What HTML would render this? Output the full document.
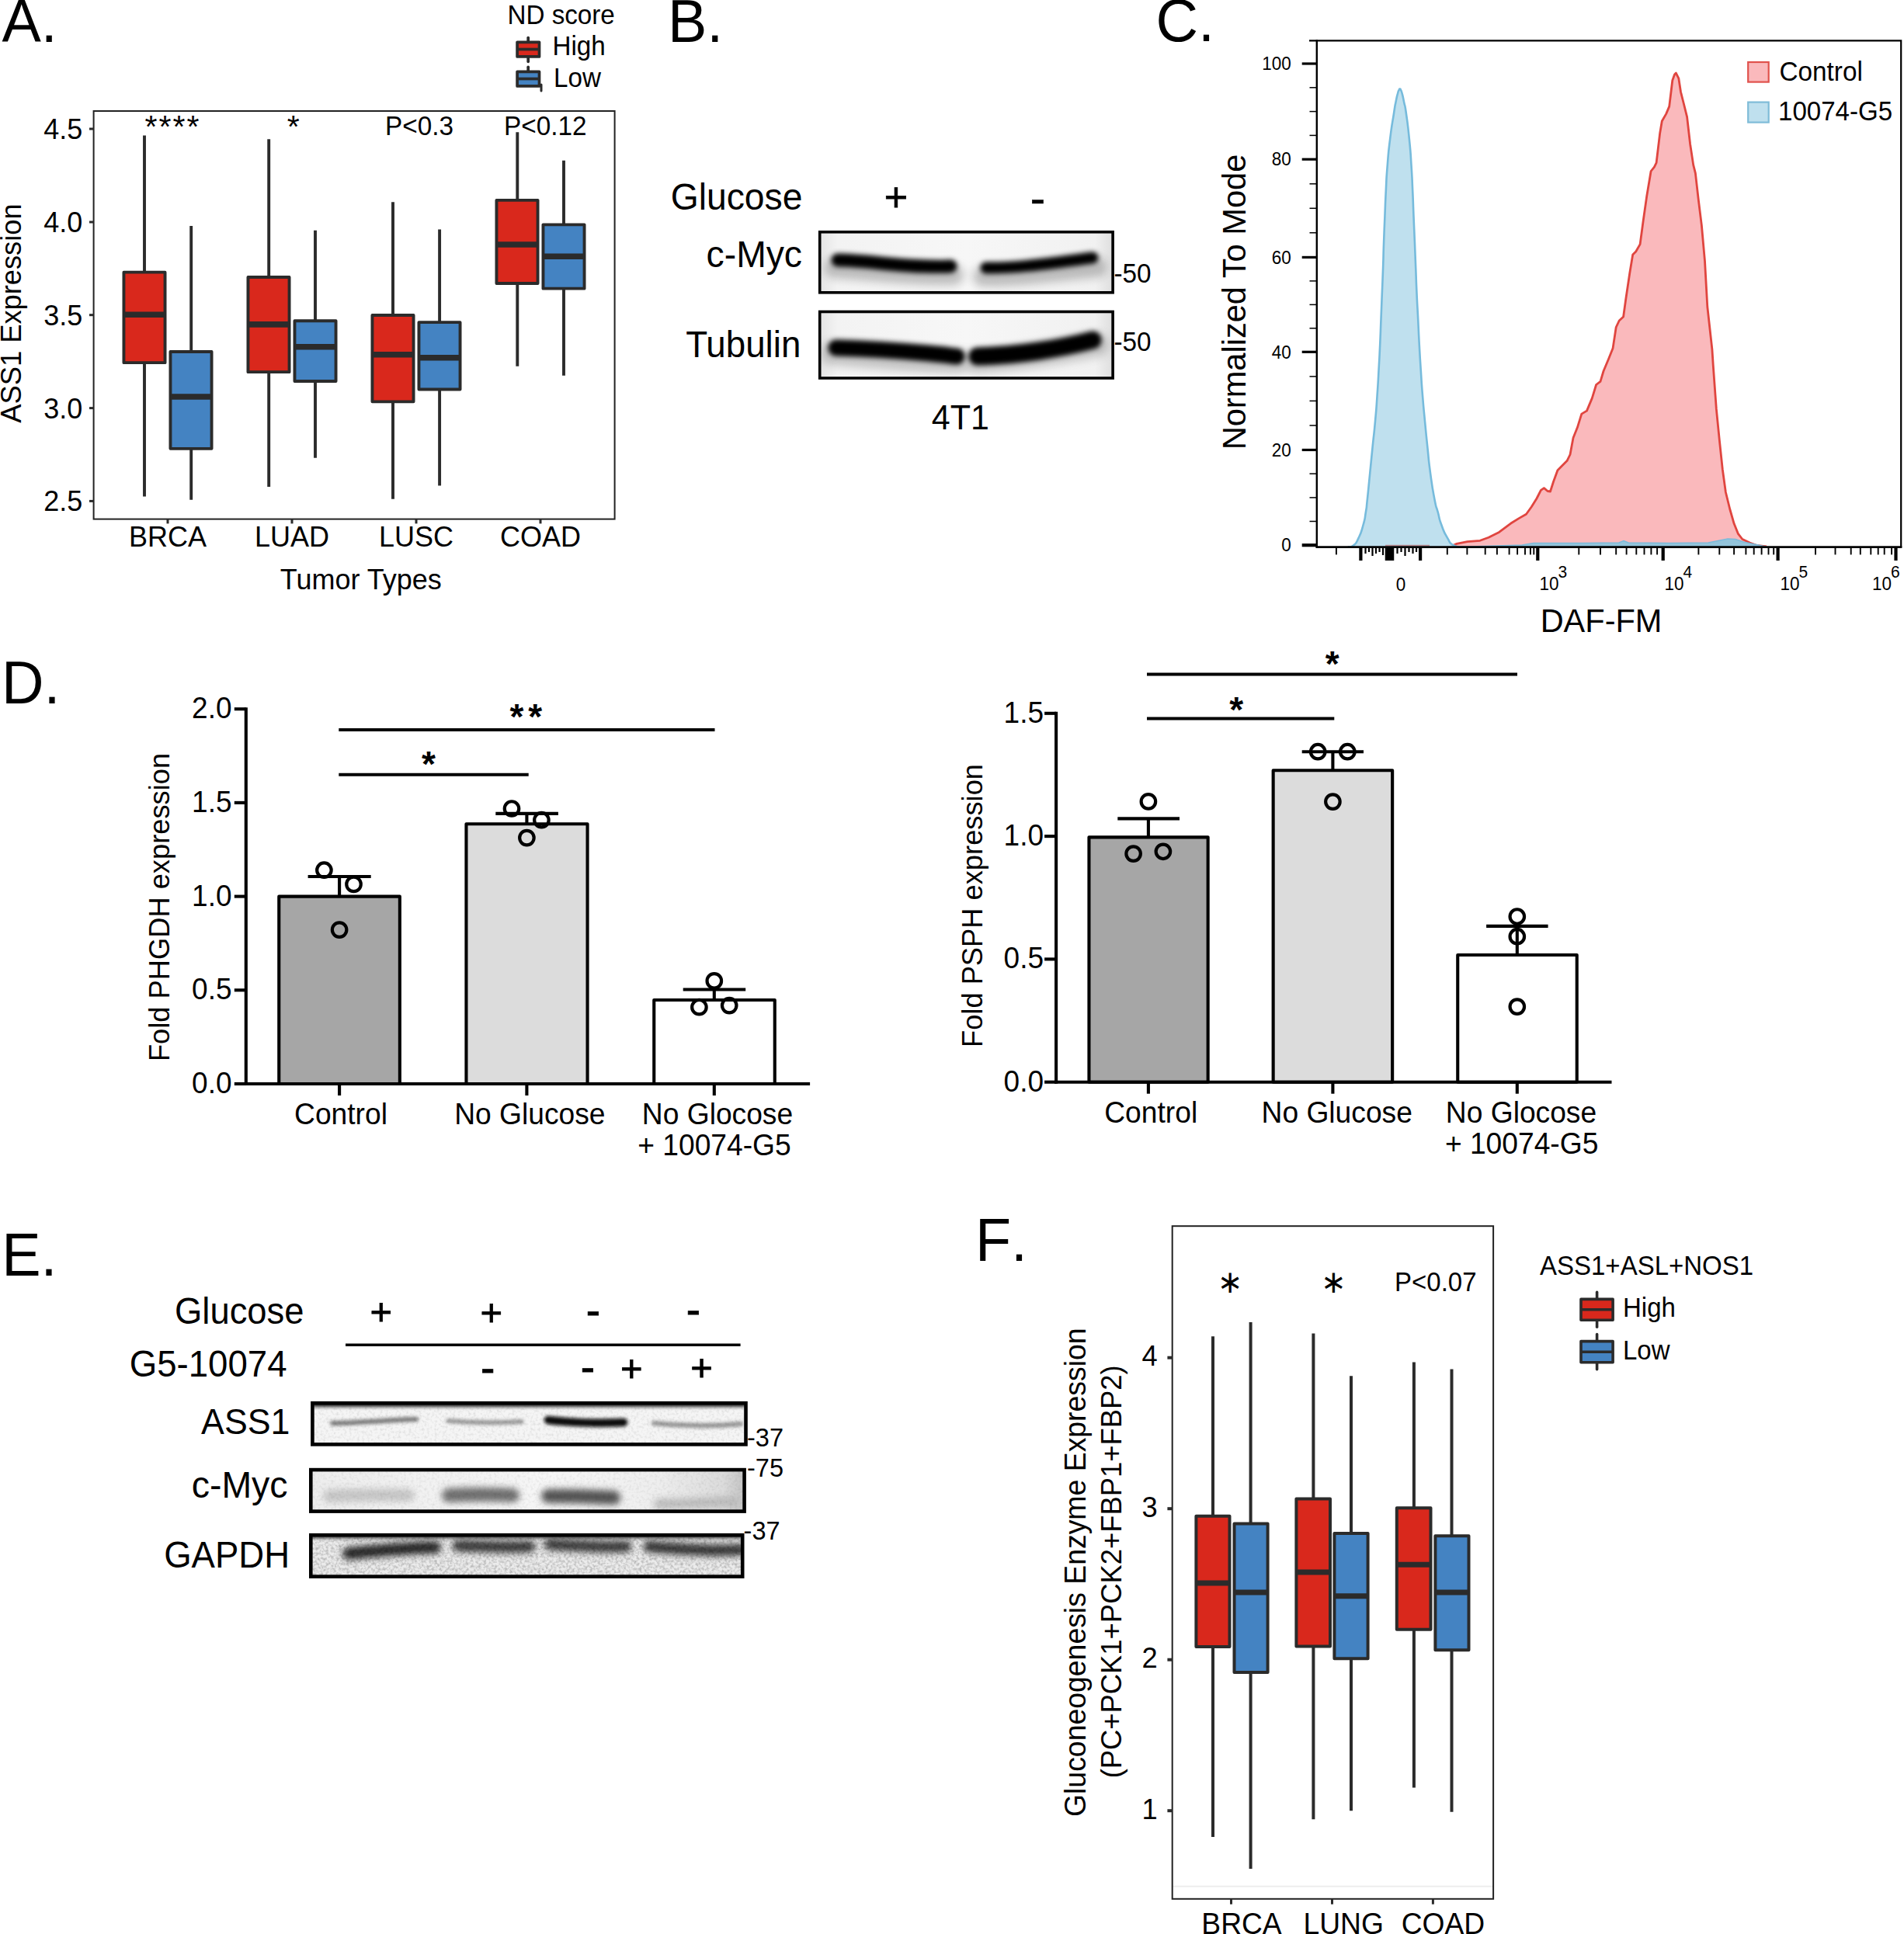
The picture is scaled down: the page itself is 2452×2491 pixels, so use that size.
<!DOCTYPE html>
<html lang="en"><head><meta charset="utf-8"><title>Figure</title>
<style>html,body{margin:0;padding:0;background:#fff}svg{display:block}text{font-family:"Liberation Sans", sans-serif;fill:#000}</style>
</head><body>
<svg width="2452" height="2491" viewBox="0 0 2452 2491">
<defs>
<filter id="b3" x="-20%" y="-200%" width="140%" height="500%"><feGaussianBlur stdDeviation="3"/></filter>
<filter id="b4" x="-20%" y="-200%" width="140%" height="500%"><feGaussianBlur stdDeviation="4.5"/></filter>
<filter id="b2" x="-20%" y="-200%" width="140%" height="500%"><feGaussianBlur stdDeviation="2.2"/></filter>
<filter id="b6" x="-20%" y="-300%" width="140%" height="700%"><feGaussianBlur stdDeviation="6"/></filter>
<filter id="noise" x="0" y="0" width="100%" height="100%"><feTurbulence type="fractalNoise" baseFrequency="0.3" numOctaves="2" seed="7" result="n"/><feColorMatrix type="matrix" values="0 0 0 0 0  0 0 0 0 0  0 0 0 0 0  1.6 0 0 0 -0.62"/></filter>
<filter id="noise2" x="0" y="0" width="100%" height="100%"><feTurbulence type="fractalNoise" baseFrequency="0.3" numOctaves="2" seed="3" result="n"/><feColorMatrix type="matrix" values="0 0 0 0 0  0 0 0 0 0  0 0 0 0 0  1.2 0 0 0 -0.52"/></filter>
<clipPath id="cB1"><rect x="1056" y="299" width="377" height="77.5"/></clipPath>
<clipPath id="cB2"><rect x="1056" y="401.5" width="377" height="85.5"/></clipPath>
<clipPath id="cE1"><rect x="402" y="1807" width="558.5" height="54"/></clipPath>
<clipPath id="cE2"><rect x="400" y="1893" width="558.5" height="54"/></clipPath>
<clipPath id="cE3"><rect x="400" y="1977" width="556.5" height="54"/></clipPath>
<clipPath id="cC"><rect x="1696" y="53" width="752" height="652"/></clipPath>
</defs>
<rect width="2452" height="2491" fill="#fff"/>
<text transform="translate(2.5 54.2) scale(1 1.04)" font-size="75.5">A.</text>
<text transform="translate(860 53.7) scale(1 1.04)" font-size="75.5">B.</text>
<text transform="translate(1488.5 53.3) scale(1 1.04)" font-size="75.5">C.</text>
<text transform="translate(1.9 906) scale(1 1.04)" font-size="75.5">D.</text>
<text transform="translate(2.2 1642.5) scale(1 1.04)" font-size="75.5">E.</text>
<text transform="translate(1255.9 1624.3) scale(1 1.04)" font-size="75.5" style="font-kerning:none">F.</text>
<g id="panelA">
<text transform="translate(653.5 30.8) scale(1 1.04)" font-size="33.2">ND score</text>
<text transform="translate(711.5 70.6) scale(1 1.04)" font-size="33.2">High</text>
<text transform="translate(713 112) scale(1 1.04)" font-size="33.2">Low</text>
<line x1="680.2" y1="48.6" x2="680.2" y2="79.3" stroke="#2b2b2b" stroke-width="3.7" stroke-linecap="round"/>
<rect x="666.1" y="54.3" width="28.4" height="18.6" fill="#d9281c" stroke="#2b2b2b" stroke-width="3.7" stroke-linejoin="round"/>
<line x1="666.5" y1="63.5" x2="694" y2="63.5" stroke="#2b2b2b" stroke-width="3.7"/>
<line x1="680.2" y1="86.3" x2="680.2" y2="92" stroke="#2b2b2b" stroke-width="3.7" stroke-linecap="round"/>
<rect x="666.1" y="92.3" width="28.4" height="18.6" fill="#4483c2" stroke="#2b2b2b" stroke-width="3.7" stroke-linejoin="round"/>
<line x1="666.5" y1="101.5" x2="694" y2="101.5" stroke="#2b2b2b" stroke-width="3.7"/>
<line x1="697" y1="109" x2="697" y2="117" stroke="#2b2b2b" stroke-width="3" stroke-linecap="round"/>
<rect x="120.6" y="143" width="671" height="525.6" fill="none" stroke="#222" stroke-width="2"/>
<line x1="115" y1="166" x2="120.6" y2="166" stroke="#2b2b2b" stroke-width="3"/>
<text transform="translate(106.3 178.9) scale(1 1.04)" font-size="36" text-anchor="end">4.5</text>
<line x1="115" y1="286" x2="120.6" y2="286" stroke="#2b2b2b" stroke-width="3"/>
<text transform="translate(106.3 298.9) scale(1 1.04)" font-size="36" text-anchor="end">4.0</text>
<line x1="115" y1="405.7" x2="120.6" y2="405.7" stroke="#2b2b2b" stroke-width="3"/>
<text transform="translate(106.3 418.59999999999997) scale(1 1.04)" font-size="36" text-anchor="end">3.5</text>
<line x1="115" y1="525.6" x2="120.6" y2="525.6" stroke="#2b2b2b" stroke-width="3"/>
<text transform="translate(106.3 538.5) scale(1 1.04)" font-size="36" text-anchor="end">3.0</text>
<line x1="115" y1="645.4" x2="120.6" y2="645.4" stroke="#2b2b2b" stroke-width="3"/>
<text transform="translate(106.3 658.3) scale(1 1.04)" font-size="36" text-anchor="end">2.5</text>
<line x1="216" y1="668.6" x2="216" y2="674.4" stroke="#2b2b2b" stroke-width="3"/>
<text transform="translate(216 704.3) scale(1 1.04)" font-size="36" text-anchor="middle">BRCA</text>
<line x1="376" y1="668.6" x2="376" y2="674.4" stroke="#2b2b2b" stroke-width="3"/>
<text transform="translate(376 704.3) scale(1 1.04)" font-size="36" text-anchor="middle">LUAD</text>
<line x1="536" y1="668.6" x2="536" y2="674.4" stroke="#2b2b2b" stroke-width="3"/>
<text transform="translate(536 704.3) scale(1 1.04)" font-size="36" text-anchor="middle">LUSC</text>
<line x1="696" y1="668.6" x2="696" y2="674.4" stroke="#2b2b2b" stroke-width="3"/>
<text transform="translate(696 704.3) scale(1 1.04)" font-size="36" text-anchor="middle">COAD</text>
<text transform="translate(464.8 759) scale(1 1.04)" font-size="36" text-anchor="middle">Tumor Types</text>
<text transform="translate(26.6 403.5) rotate(-90) scale(1 1.04)" font-size="36.3" text-anchor="middle">ASS1 Expression</text>
<text transform="translate(186.4 177.4)" font-size="41" letter-spacing="2.05">****</text>
<text transform="translate(377.8 177.4)" font-size="41" text-anchor="middle">*</text>
<text transform="translate(540 174.3) scale(1 1.04)" font-size="33.3" text-anchor="middle">P&lt;0.3</text>
<text transform="translate(702.2 174.3) scale(1 1.04)" font-size="33.3" text-anchor="middle">P&lt;0.12</text>
<line x1="186" y1="174.4" x2="186" y2="639.5" stroke="#2b2b2b" stroke-width="3.9"/>
<rect x="159.45" y="350.65" width="53.10" height="116.50" fill="#d9281c" stroke="#2b2b2b" stroke-width="3.9" stroke-linejoin="round"/>
<line x1="159.45" y1="405.3" x2="212.55" y2="405.3" stroke="#2b2b2b" stroke-width="7.6"/>
<line x1="246.2" y1="291" x2="246.2" y2="643.7" stroke="#2b2b2b" stroke-width="3.9"/>
<rect x="219.45" y="452.95" width="53.10" height="124.90" fill="#4483c2" stroke="#2b2b2b" stroke-width="3.9" stroke-linejoin="round"/>
<line x1="219.45" y1="511" x2="272.55" y2="511" stroke="#2b2b2b" stroke-width="7.6"/>
<line x1="346.2" y1="179.2" x2="346.2" y2="626.9" stroke="#2b2b2b" stroke-width="3.9"/>
<rect x="319.45" y="356.95" width="53.10" height="122.20" fill="#d9281c" stroke="#2b2b2b" stroke-width="3.9" stroke-linejoin="round"/>
<line x1="319.45" y1="417.9" x2="372.55" y2="417.9" stroke="#2b2b2b" stroke-width="7.6"/>
<line x1="406" y1="296.7" x2="406" y2="589.7" stroke="#2b2b2b" stroke-width="3.9"/>
<rect x="379.45" y="413.25" width="53.10" height="77.70" fill="#4483c2" stroke="#2b2b2b" stroke-width="3.9" stroke-linejoin="round"/>
<line x1="379.45" y1="446.7" x2="432.55" y2="446.7" stroke="#2b2b2b" stroke-width="7.6"/>
<line x1="506" y1="260.3" x2="506" y2="642.7" stroke="#2b2b2b" stroke-width="3.9"/>
<rect x="479.45" y="405.95" width="53.10" height="111.40" fill="#d9281c" stroke="#2b2b2b" stroke-width="3.9" stroke-linejoin="round"/>
<line x1="479.45" y1="456.7" x2="532.55" y2="456.7" stroke="#2b2b2b" stroke-width="7.6"/>
<line x1="566.1" y1="295.6" x2="566.1" y2="625.5" stroke="#2b2b2b" stroke-width="3.9"/>
<rect x="539.45" y="415.15" width="53.10" height="86.30" fill="#4483c2" stroke="#2b2b2b" stroke-width="3.9" stroke-linejoin="round"/>
<line x1="539.45" y1="460.7" x2="592.55" y2="460.7" stroke="#2b2b2b" stroke-width="7.6"/>
<line x1="666.3" y1="170.3" x2="666.3" y2="471.7" stroke="#2b2b2b" stroke-width="3.9"/>
<rect x="639.45" y="257.85" width="53.10" height="107.20" fill="#d9281c" stroke="#2b2b2b" stroke-width="3.9" stroke-linejoin="round"/>
<line x1="639.45" y1="315" x2="692.55" y2="315" stroke="#2b2b2b" stroke-width="7.6"/>
<line x1="726" y1="206.7" x2="726" y2="483.8" stroke="#2b2b2b" stroke-width="3.9"/>
<rect x="699.45" y="289.35" width="53.10" height="82.30" fill="#4483c2" stroke="#2b2b2b" stroke-width="3.9" stroke-linejoin="round"/>
<line x1="699.45" y1="330.2" x2="752.55" y2="330.2" stroke="#2b2b2b" stroke-width="7.6"/>
</g>
<g id="panelB">
<text transform="translate(1033.5 270.4) scale(1 1.04)" font-size="46.3" text-anchor="end">Glucose</text>
<text transform="translate(1033 344.2) scale(1 1.04)" font-size="46.3" text-anchor="end">c-Myc</text>
<text transform="translate(1031.3 460.3) scale(1 1.04)" font-size="45.7" text-anchor="end">Tubulin</text>
<text transform="translate(1153.9 271.7)" font-size="52" text-anchor="middle" stroke="#000" stroke-width="0.8">+</text>
<text transform="translate(1336.5 275)" font-size="58" text-anchor="middle" stroke="#000" stroke-width="0.6">-</text>
<text transform="translate(1434.5 364) scale(1 1.04)" font-size="33.3">-50</text>
<text transform="translate(1434.5 452.3) scale(1 1.04)" font-size="33.3">-50</text>
<text transform="translate(1236.8 553.4) scale(1 1.04)" font-size="43" text-anchor="middle">4T1</text>
<linearGradient id="gB" x1="0" y1="0" x2="1" y2="0"><stop offset="0" stop-color="#e4e4e4"/><stop offset="0.06" stop-color="#f3f3f3"/><stop offset="0.5" stop-color="#f7f7f7"/><stop offset="0.94" stop-color="#f1f1f1"/><stop offset="1" stop-color="#dedede"/></linearGradient>
<rect x="1055.7" y="298.8" width="377.4" height="78" fill="url(#gB)"/>
<g clip-path="url(#cB1)">
<g filter="url(#b6)" opacity="0.35"><path d="M1075,345 C1120,348 1185,356 1228,354" stroke="#555" stroke-width="26" fill="none" stroke-linecap="round"/><path d="M1266,356 C1310,357 1370,348 1412,344" stroke="#555" stroke-width="26" fill="none" stroke-linecap="round"/></g>
<g filter="url(#b3)"><path d="M1079,335 C1110,335 1150,342 1190,343 S1215,343 1224,343" stroke="#000" stroke-width="17" fill="none" stroke-linecap="round"/><path d="M1270,345 C1310,346 1360,338 1407,332" stroke="#000" stroke-width="15" fill="none" stroke-linecap="round"/></g>
</g>
<rect x="1055.7" y="298.8" width="377.4" height="78" fill="none" stroke="#000" stroke-width="3.6"/>
<rect x="1055.7" y="401.5" width="377.4" height="85.5" fill="url(#gB)"/>
<g clip-path="url(#cB2)">
<g filter="url(#b6)" opacity="0.3"><path d="M1072,455 C1120,458 1185,466 1236,466" stroke="#555" stroke-width="30" fill="none" stroke-linecap="round"/><path d="M1256,466 C1310,464 1370,452 1412,444" stroke="#555" stroke-width="30" fill="none" stroke-linecap="round"/></g>
<g filter="url(#b3)"><path d="M1077,448 C1110,449 1160,452 1195,455 S1225,459 1232,459" stroke="#000" stroke-width="21" fill="none" stroke-linecap="round"/><path d="M1259,459 C1310,458 1365,449 1407,438" stroke="#000" stroke-width="23" fill="none" stroke-linecap="round"/></g>
</g>
<rect x="1055.7" y="401.5" width="377.4" height="85.5" fill="none" stroke="#000" stroke-width="3.6"/>
</g>
<g id="panelC">
<path d="M1868,704 L1876,700.4 L1889.7,697.7 L1906,696.3 L1917,692.2 L1930.6,685.4 L1940,678.3 L1945.4,674.3 L1956.1,667.6 L1965.5,662.2 L1972.3,652.8 L1979,642 L1984.4,631.3 L1988.4,628.6 L1993,632.5 L1996.5,633 L2000.5,620.5 L2005.9,605.7 L2011.3,600.3 L2018,593.6 L2022,585.5 L2026,564 L2031.4,550.6 L2036.8,533.1 L2043.5,529.1 L2050.3,512.9 L2055.6,495.5 L2061,491.4 L2065,478 L2071.8,461.8 L2077.1,448.4 L2081.2,421.5 L2085.2,413 L2090.6,408 L2093.8,385 L2098.7,352.3 L2102.7,328.1 L2106.7,324 L2112.1,314.6 L2116.1,285 L2120.7,252.8 L2126.1,220.5 L2130.4,215.1 L2133.1,209.7 L2137.6,172.1 L2140.3,156 L2145.7,146.6 L2149.7,137.1 L2153.8,103.5 L2156.5,96 L2158.4,94.1 L2161.8,100.8 L2164.5,118.3 L2168.6,134.5 L2172.6,150.6 L2176.6,185.5 L2180.7,212.4 L2183.4,223.2 L2187.4,258.2 L2191.4,290.4 L2195.5,336.1 L2198.8,395 L2204.9,449.9 L2206.2,469.9 L2210.3,526.4 L2214.3,566.7 L2218.3,604.4 L2222.4,634 L2227.7,655.5 L2233.1,674.3 L2238.5,687.7 L2243.9,694.5 L2253.3,699 L2262.7,702.5 L2275,704 Z" fill="#fab9bc" stroke="none"/>
<path d="M1868,704 L1876,700.4 L1889.7,697.7 L1906,696.3 L1917,692.2 L1930.6,685.4 L1940,678.3 L1945.4,674.3 L1956.1,667.6 L1965.5,662.2 L1972.3,652.8 L1979,642 L1984.4,631.3 L1988.4,628.6 L1993,632.5 L1996.5,633 L2000.5,620.5 L2005.9,605.7 L2011.3,600.3 L2018,593.6 L2022,585.5 L2026,564 L2031.4,550.6 L2036.8,533.1 L2043.5,529.1 L2050.3,512.9 L2055.6,495.5 L2061,491.4 L2065,478 L2071.8,461.8 L2077.1,448.4 L2081.2,421.5 L2085.2,413 L2090.6,408 L2093.8,385 L2098.7,352.3 L2102.7,328.1 L2106.7,324 L2112.1,314.6 L2116.1,285 L2120.7,252.8 L2126.1,220.5 L2130.4,215.1 L2133.1,209.7 L2137.6,172.1 L2140.3,156 L2145.7,146.6 L2149.7,137.1 L2153.8,103.5 L2156.5,96 L2158.4,94.1 L2161.8,100.8 L2164.5,118.3 L2168.6,134.5 L2172.6,150.6 L2176.6,185.5 L2180.7,212.4 L2183.4,223.2 L2187.4,258.2 L2191.4,290.4 L2195.5,336.1 L2198.8,395 L2204.9,449.9 L2206.2,469.9 L2210.3,526.4 L2214.3,566.7 L2218.3,604.4 L2222.4,634 L2227.7,655.5 L2233.1,674.3 L2238.5,687.7 L2243.9,694.5 L2253.3,699 L2262.7,702.5 L2275,704" fill="none" stroke="#e0453f" stroke-width="2.8" stroke-linejoin="round"/>
<path d="M1736.0,704.3 C1738.3,703.7 1738.4,706.4 1743.0,702.5 C1747.6,698.6 1745.5,701.4 1749.7,692.6 C1753.9,683.8 1752.5,687.0 1755.6,676.0 C1758.7,665.0 1757.1,670.5 1758.9,659.5 C1760.7,648.5 1759.1,659.5 1760.9,642.9 C1762.7,626.3 1762.0,631.9 1764.2,609.8 C1766.4,587.7 1765.3,598.8 1767.5,576.7 C1769.7,554.6 1768.9,565.7 1770.9,543.6 C1772.9,521.5 1772.0,532.6 1773.5,510.5 C1775.0,488.4 1774.3,499.5 1775.5,477.4 C1776.7,455.3 1776.2,466.3 1777.2,444.2 C1778.2,422.1 1777.6,433.2 1778.5,411.1 C1779.4,389.0 1778.9,400.1 1779.8,378.0 C1780.7,355.9 1780.3,367.0 1781.1,344.9 C1781.9,322.8 1781.3,333.9 1782.1,311.8 C1782.9,289.7 1782.5,300.8 1783.4,278.7 C1784.3,256.6 1783.7,267.7 1784.8,245.6 C1785.9,223.5 1785.0,234.6 1786.8,212.5 C1788.6,190.4 1787.4,201.4 1790.1,179.3 C1792.8,157.2 1792.5,162.3 1795.0,146.2 C1797.5,130.1 1795.9,139.6 1797.6,131.0 C1799.3,122.4 1798.7,125.5 1800.0,120.5 C1801.3,115.5 1800.7,118.0 1801.6,116.0 C1802.5,114.0 1802.0,114.6 1802.8,114.6 C1803.6,114.6 1803.0,113.9 1804.0,116.0 C1805.0,118.1 1804.4,115.7 1805.8,121.0 C1807.2,126.3 1806.5,123.6 1808.2,132.0 C1809.9,140.4 1808.7,130.4 1810.9,146.2 C1813.1,162.0 1812.7,157.2 1814.9,179.3 C1817.1,201.4 1816.1,190.4 1817.5,212.5 C1818.9,234.6 1818.2,223.5 1819.2,245.6 C1820.2,267.7 1819.6,256.6 1820.5,278.7 C1821.4,300.8 1821.0,289.7 1821.9,311.8 C1822.8,333.9 1822.3,322.8 1823.2,344.9 C1824.1,367.0 1823.5,355.9 1824.5,378.0 C1825.5,400.1 1825.1,389.0 1826.2,411.1 C1827.3,433.2 1826.6,422.1 1827.8,444.2 C1829.0,466.3 1828.4,455.3 1829.8,477.4 C1831.2,499.5 1830.3,488.4 1832.1,510.5 C1833.9,532.6 1833.0,521.5 1835.1,543.6 C1837.2,565.7 1836.1,554.6 1838.4,576.7 C1840.7,598.8 1839.1,587.7 1842.1,609.8 C1845.1,631.9 1844.2,626.3 1847.4,642.9 C1850.6,659.5 1848.7,648.5 1851.7,659.5 C1854.7,670.5 1852.2,665.0 1856.3,676.0 C1860.4,687.0 1858.6,683.8 1863.9,692.6 C1869.2,701.4 1865.2,698.6 1872.2,702.5 C1879.2,706.4 1880.7,703.7 1885.0,704.3 Z" fill="#bfe0ee" stroke="none"/>
<path d="M1736.0,704.3 C1738.3,703.7 1738.4,706.4 1743.0,702.5 C1747.6,698.6 1745.5,701.4 1749.7,692.6 C1753.9,683.8 1752.5,687.0 1755.6,676.0 C1758.7,665.0 1757.1,670.5 1758.9,659.5 C1760.7,648.5 1759.1,659.5 1760.9,642.9 C1762.7,626.3 1762.0,631.9 1764.2,609.8 C1766.4,587.7 1765.3,598.8 1767.5,576.7 C1769.7,554.6 1768.9,565.7 1770.9,543.6 C1772.9,521.5 1772.0,532.6 1773.5,510.5 C1775.0,488.4 1774.3,499.5 1775.5,477.4 C1776.7,455.3 1776.2,466.3 1777.2,444.2 C1778.2,422.1 1777.6,433.2 1778.5,411.1 C1779.4,389.0 1778.9,400.1 1779.8,378.0 C1780.7,355.9 1780.3,367.0 1781.1,344.9 C1781.9,322.8 1781.3,333.9 1782.1,311.8 C1782.9,289.7 1782.5,300.8 1783.4,278.7 C1784.3,256.6 1783.7,267.7 1784.8,245.6 C1785.9,223.5 1785.0,234.6 1786.8,212.5 C1788.6,190.4 1787.4,201.4 1790.1,179.3 C1792.8,157.2 1792.5,162.3 1795.0,146.2 C1797.5,130.1 1795.9,139.6 1797.6,131.0 C1799.3,122.4 1798.7,125.5 1800.0,120.5 C1801.3,115.5 1800.7,118.0 1801.6,116.0 C1802.5,114.0 1802.0,114.6 1802.8,114.6 C1803.6,114.6 1803.0,113.9 1804.0,116.0 C1805.0,118.1 1804.4,115.7 1805.8,121.0 C1807.2,126.3 1806.5,123.6 1808.2,132.0 C1809.9,140.4 1808.7,130.4 1810.9,146.2 C1813.1,162.0 1812.7,157.2 1814.9,179.3 C1817.1,201.4 1816.1,190.4 1817.5,212.5 C1818.9,234.6 1818.2,223.5 1819.2,245.6 C1820.2,267.7 1819.6,256.6 1820.5,278.7 C1821.4,300.8 1821.0,289.7 1821.9,311.8 C1822.8,333.9 1822.3,322.8 1823.2,344.9 C1824.1,367.0 1823.5,355.9 1824.5,378.0 C1825.5,400.1 1825.1,389.0 1826.2,411.1 C1827.3,433.2 1826.6,422.1 1827.8,444.2 C1829.0,466.3 1828.4,455.3 1829.8,477.4 C1831.2,499.5 1830.3,488.4 1832.1,510.5 C1833.9,532.6 1833.0,521.5 1835.1,543.6 C1837.2,565.7 1836.1,554.6 1838.4,576.7 C1840.7,598.8 1839.1,587.7 1842.1,609.8 C1845.1,631.9 1844.2,626.3 1847.4,642.9 C1850.6,659.5 1848.7,648.5 1851.7,659.5 C1854.7,670.5 1852.2,665.0 1856.3,676.0 C1860.4,687.0 1858.6,683.8 1863.9,692.6 C1869.2,701.4 1865.2,698.6 1872.2,702.5 C1879.2,706.4 1880.7,703.7 1885.0,704.3" fill="none" stroke="#76bbdc" stroke-width="2.6" stroke-linejoin="round"/>
<path d="M1885,704.3 L1960,702 L1975,699.5 L2040,699.5 L2085,699 L2091,696.5 L2097,699 L2150,699.5 L2200,699 L2215,696 L2225,694 L2235,694.5 L2245,698 L2262,701.5 L2275,704.3 Z" fill="#8ec5dd" stroke="#76bbdc" stroke-width="1.5" opacity="0.95"/>
<line x1="1784" y1="702.6" x2="1841" y2="702.6" stroke="#b98a90" stroke-width="1.6"/>
<path d="M1686,52.3 H2448.2 V705.6" fill="none" stroke="#000" stroke-width="2.2"/>
<line x1="1695.8" y1="51.2" x2="1695.8" y2="705.6" stroke="#000" stroke-width="2.4"/>
<line x1="1694.6" y1="704.6" x2="2449.3" y2="704.6" stroke="#000" stroke-width="2.6"/>
<line x1="1676.7" y1="82" x2="1695.8" y2="82" stroke="#000" stroke-width="3.2"/>
<text transform="translate(1662.8 90.2) scale(1 1.04)" font-size="22.5" text-anchor="end">100</text>
<line x1="1676.7" y1="205.2" x2="1695.8" y2="205.2" stroke="#000" stroke-width="3.2"/>
<text transform="translate(1662.8 213.39999999999998) scale(1 1.04)" font-size="22.5" text-anchor="end">80</text>
<line x1="1676.7" y1="331.4" x2="1695.8" y2="331.4" stroke="#000" stroke-width="3.2"/>
<text transform="translate(1662.8 339.59999999999997) scale(1 1.04)" font-size="22.5" text-anchor="end">60</text>
<line x1="1676.7" y1="453.3" x2="1695.8" y2="453.3" stroke="#000" stroke-width="3.2"/>
<text transform="translate(1662.8 461.5) scale(1 1.04)" font-size="22.5" text-anchor="end">40</text>
<line x1="1676.7" y1="579.5" x2="1695.8" y2="579.5" stroke="#000" stroke-width="3.2"/>
<text transform="translate(1662.8 587.7) scale(1 1.04)" font-size="22.5" text-anchor="end">20</text>
<line x1="1676.7" y1="702.2" x2="1695.8" y2="702.2" stroke="#000" stroke-width="4.2"/>
<text transform="translate(1662.8 710.4000000000001) scale(1 1.04)" font-size="22.5" text-anchor="end">0</text>
<line x1="1686.5" y1="112.8" x2="1695.8" y2="112.8" stroke="#000" stroke-width="1.5"/>
<line x1="1686.5" y1="143.6" x2="1695.8" y2="143.6" stroke="#000" stroke-width="1.5"/>
<line x1="1686.5" y1="174.4" x2="1695.8" y2="174.4" stroke="#000" stroke-width="1.5"/>
<line x1="1686.5" y1="236.8" x2="1695.8" y2="236.8" stroke="#000" stroke-width="1.5"/>
<line x1="1686.5" y1="268.3" x2="1695.8" y2="268.3" stroke="#000" stroke-width="1.5"/>
<line x1="1686.5" y1="299.8" x2="1695.8" y2="299.8" stroke="#000" stroke-width="1.5"/>
<line x1="1686.5" y1="361.9" x2="1695.8" y2="361.9" stroke="#000" stroke-width="1.5"/>
<line x1="1686.5" y1="392.4" x2="1695.8" y2="392.4" stroke="#000" stroke-width="1.5"/>
<line x1="1686.5" y1="422.8" x2="1695.8" y2="422.8" stroke="#000" stroke-width="1.5"/>
<line x1="1686.5" y1="484.9" x2="1695.8" y2="484.9" stroke="#000" stroke-width="1.5"/>
<line x1="1686.5" y1="516.4" x2="1695.8" y2="516.4" stroke="#000" stroke-width="1.5"/>
<line x1="1686.5" y1="548.0" x2="1695.8" y2="548.0" stroke="#000" stroke-width="1.5"/>
<line x1="1686.5" y1="610.2" x2="1695.8" y2="610.2" stroke="#000" stroke-width="1.5"/>
<line x1="1686.5" y1="640.9" x2="1695.8" y2="640.9" stroke="#000" stroke-width="1.5"/>
<line x1="1686.5" y1="671.5" x2="1695.8" y2="671.5" stroke="#000" stroke-width="1.5"/>
<line x1="1752.4" y1="705.5" x2="1752.4" y2="722" stroke="#000" stroke-width="4.2"/>
<line x1="1829.1" y1="705.5" x2="1829.1" y2="722" stroke="#000" stroke-width="4.2"/>
<line x1="1980.3" y1="705.5" x2="1980.3" y2="722" stroke="#000" stroke-width="4.2"/>
<line x1="2141.7" y1="705.5" x2="2141.7" y2="722" stroke="#000" stroke-width="4.2"/>
<line x1="2289.6" y1="705.5" x2="2289.6" y2="722" stroke="#000" stroke-width="4.2"/>
<line x1="2441.5" y1="705.5" x2="2441.5" y2="722" stroke="#000" stroke-width="4.2"/>
<line x1="1789.5" y1="705.5" x2="1789.5" y2="722" stroke="#000" stroke-width="11.5"/>
<line x1="1720.9" y1="705.5" x2="1720.9" y2="714.4" stroke="#000" stroke-width="1.9"/>
<line x1="1863.8" y1="705.5" x2="1863.8" y2="714.4" stroke="#000" stroke-width="1.9"/>
<line x1="1889.4" y1="705.5" x2="1889.4" y2="714.4" stroke="#000" stroke-width="1.9"/>
<line x1="1912.7" y1="705.5" x2="1912.7" y2="714.4" stroke="#000" stroke-width="1.9"/>
<line x1="1927.9" y1="705.5" x2="1927.9" y2="714.4" stroke="#000" stroke-width="1.9"/>
<line x1="1943.6" y1="705.5" x2="1943.6" y2="714.4" stroke="#000" stroke-width="1.9"/>
<line x1="1954.1" y1="705.5" x2="1954.1" y2="714.4" stroke="#000" stroke-width="1.9"/>
<line x1="1964" y1="705.5" x2="1964" y2="714.4" stroke="#000" stroke-width="1.9"/>
<line x1="1970.9" y1="705.5" x2="1970.9" y2="714.4" stroke="#000" stroke-width="1.9"/>
<line x1="1975.3" y1="705.5" x2="1975.3" y2="714.4" stroke="#000" stroke-width="1.9"/>
<line x1="2033.3" y1="705.5" x2="2033.3" y2="714.4" stroke="#000" stroke-width="1.9"/>
<line x1="2061" y1="705.5" x2="2061" y2="714.4" stroke="#000" stroke-width="1.9"/>
<line x1="2081.2" y1="705.5" x2="2081.2" y2="714.4" stroke="#000" stroke-width="1.9"/>
<line x1="2094.6" y1="705.5" x2="2094.6" y2="714.4" stroke="#000" stroke-width="1.9"/>
<line x1="2107.3" y1="705.5" x2="2107.3" y2="714.4" stroke="#000" stroke-width="1.9"/>
<line x1="2117.5" y1="705.5" x2="2117.5" y2="714.4" stroke="#000" stroke-width="1.9"/>
<line x1="2126.4" y1="705.5" x2="2126.4" y2="714.4" stroke="#000" stroke-width="1.9"/>
<line x1="2134.1" y1="705.5" x2="2134.1" y2="714.4" stroke="#000" stroke-width="1.9"/>
<line x1="2187.4" y1="705.5" x2="2187.4" y2="714.4" stroke="#000" stroke-width="1.9"/>
<line x1="2214.3" y1="705.5" x2="2214.3" y2="714.4" stroke="#000" stroke-width="1.9"/>
<line x1="2233.1" y1="705.5" x2="2233.1" y2="714.4" stroke="#000" stroke-width="1.9"/>
<line x1="2248.4" y1="705.5" x2="2248.4" y2="714.4" stroke="#000" stroke-width="1.9"/>
<line x1="2258.7" y1="705.5" x2="2258.7" y2="714.4" stroke="#000" stroke-width="1.9"/>
<line x1="2268.6" y1="705.5" x2="2268.6" y2="714.4" stroke="#000" stroke-width="1.9"/>
<line x1="2277.5" y1="705.5" x2="2277.5" y2="714.4" stroke="#000" stroke-width="1.9"/>
<line x1="2284.2" y1="705.5" x2="2284.2" y2="714.4" stroke="#000" stroke-width="1.9"/>
<line x1="2338" y1="705.5" x2="2338" y2="714.4" stroke="#000" stroke-width="1.9"/>
<line x1="2363.5" y1="705.5" x2="2363.5" y2="714.4" stroke="#000" stroke-width="1.9"/>
<line x1="2383.7" y1="705.5" x2="2383.7" y2="714.4" stroke="#000" stroke-width="1.9"/>
<line x1="2395.8" y1="705.5" x2="2395.8" y2="714.4" stroke="#000" stroke-width="1.9"/>
<line x1="2409.3" y1="705.5" x2="2409.3" y2="714.4" stroke="#000" stroke-width="1.9"/>
<line x1="2418.7" y1="705.5" x2="2418.7" y2="714.4" stroke="#000" stroke-width="1.9"/>
<line x1="2426.7" y1="705.5" x2="2426.7" y2="714.4" stroke="#000" stroke-width="1.9"/>
<line x1="2436.1" y1="705.5" x2="2436.1" y2="714.4" stroke="#000" stroke-width="1.9"/>
<line x1="1758.5" y1="705.5" x2="1758.5" y2="713" stroke="#000" stroke-width="2.2"/>
<line x1="1763" y1="705.5" x2="1763" y2="711" stroke="#000" stroke-width="2.2"/>
<line x1="1767.5" y1="705.5" x2="1767.5" y2="716" stroke="#000" stroke-width="2.2"/>
<line x1="1772" y1="705.5" x2="1772" y2="713" stroke="#000" stroke-width="2.2"/>
<line x1="1776.5" y1="705.5" x2="1776.5" y2="711" stroke="#000" stroke-width="2.2"/>
<line x1="1781" y1="705.5" x2="1781" y2="715" stroke="#000" stroke-width="2.2"/>
<line x1="1799.5" y1="705.5" x2="1799.5" y2="713" stroke="#000" stroke-width="2.2"/>
<line x1="1804.5" y1="705.5" x2="1804.5" y2="711" stroke="#000" stroke-width="2.2"/>
<line x1="1809.5" y1="705.5" x2="1809.5" y2="716" stroke="#000" stroke-width="2.2"/>
<line x1="1814.5" y1="705.5" x2="1814.5" y2="711" stroke="#000" stroke-width="2.2"/>
<line x1="1819.5" y1="705.5" x2="1819.5" y2="713" stroke="#000" stroke-width="2.2"/>
<line x1="1824" y1="705.5" x2="1824" y2="711" stroke="#000" stroke-width="2.2"/>
<text transform="translate(1803.9 760.6) scale(1 1.04)" font-size="22.5" text-anchor="middle">0</text>
<text transform="translate(1982.5 760.4) scale(1 1.04)" font-size="22.5">10</text>
<text transform="translate(2006.5 744) scale(1 1.04)" font-size="21">3</text>
<text transform="translate(2143.5 760.4) scale(1 1.04)" font-size="22.5">10</text>
<text transform="translate(2167.5 744) scale(1 1.04)" font-size="21">4</text>
<text transform="translate(2292.5 760.4) scale(1 1.04)" font-size="22.5">10</text>
<text transform="translate(2316.5 744) scale(1 1.04)" font-size="21">5</text>
<text transform="translate(2411 760.4) scale(1 1.04)" font-size="22.5">10</text>
<text transform="translate(2435 744) scale(1 1.04)" font-size="21">6</text>
<text transform="translate(2062 814.1) scale(1 1.04)" font-size="41.5" text-anchor="middle">DAF-FM</text>
<text transform="translate(1604.3 389) rotate(-90) scale(1 1.04)" font-size="41.6" text-anchor="middle">Normalized To Mode</text>
<rect x="2251.2" y="80" width="26.5" height="25.6" fill="#fab9bc" stroke="#e0524d" stroke-width="2.2"/>
<rect x="2251.2" y="131.6" width="26.5" height="26" fill="#bfe0ee" stroke="#7fbcd8" stroke-width="2.2"/>
<text transform="translate(2291.5 103.5) scale(1 1.04)" font-size="33.3">Control</text>
<text transform="translate(2290 155.2) scale(1 1.04)" font-size="33.1">10074-G5</text>
</g>
<g id="panelD1">
<rect x="359.25" y="1154.65" width="155.60" height="241.35" fill="#a6a6a6" stroke="#000" stroke-width="4.1" stroke-linejoin="round"/>
<rect x="600.45" y="1061.25" width="156.10" height="334.75" fill="#dcdcdc" stroke="#000" stroke-width="4.1" stroke-linejoin="round"/>
<rect x="842.25" y="1287.95" width="155.50" height="108.05" fill="#ffffff" stroke="#000" stroke-width="4.1" stroke-linejoin="round"/>
<line x1="437.1" y1="1129" x2="437.1" y2="1153" stroke="#000" stroke-width="4.1"/>
<line x1="396.6" y1="1129" x2="477.7" y2="1129" stroke="#000" stroke-width="4.1"/>
<line x1="678.4" y1="1047.9" x2="678.4" y2="1060" stroke="#000" stroke-width="4.1"/>
<line x1="638.3" y1="1047.9" x2="718.9" y2="1047.9" stroke="#000" stroke-width="4.1"/>
<line x1="919.8" y1="1274.5" x2="919.8" y2="1287" stroke="#000" stroke-width="4.1"/>
<line x1="879.7" y1="1274.5" x2="960.2" y2="1274.5" stroke="#000" stroke-width="4.1"/>
<circle cx="417.4" cy="1120.7" r="9.25" fill="none" stroke="#000" stroke-width="4.2"/>
<circle cx="455.5" cy="1138.9" r="9.25" fill="none" stroke="#000" stroke-width="4.2"/>
<circle cx="437.1" cy="1197.6" r="9.25" fill="none" stroke="#000" stroke-width="4.2"/>
<circle cx="659" cy="1041.5" r="9.25" fill="none" stroke="#000" stroke-width="4.2"/>
<circle cx="678.4" cy="1079.1" r="9.25" fill="none" stroke="#000" stroke-width="4.2"/>
<circle cx="697.4" cy="1056.2" r="9.25" fill="none" stroke="#000" stroke-width="4.2"/>
<circle cx="919.8" cy="1263.4" r="9.25" fill="none" stroke="#000" stroke-width="4.2"/>
<circle cx="900.4" cy="1297.2" r="9.25" fill="none" stroke="#000" stroke-width="4.2"/>
<circle cx="939.2" cy="1295.1" r="9.25" fill="none" stroke="#000" stroke-width="4.2"/>
<line x1="316.8" y1="911.1500000000001" x2="316.8" y2="1398.05" stroke="#000" stroke-width="4.1"/>
<line x1="314.75" y1="1396" x2="1043.1" y2="1396" stroke="#000" stroke-width="4.1"/>
<line x1="301.8" y1="913.2" x2="316.8" y2="913.2" stroke="#000" stroke-width="4.1"/>
<text transform="translate(298.5 925.1) scale(1 1.04)" font-size="37" text-anchor="end">2.0</text>
<line x1="301.8" y1="1033.9" x2="316.8" y2="1033.9" stroke="#000" stroke-width="4.1"/>
<text transform="translate(298.5 1045.8000000000002) scale(1 1.04)" font-size="37" text-anchor="end">1.5</text>
<line x1="301.8" y1="1154.6" x2="316.8" y2="1154.6" stroke="#000" stroke-width="4.1"/>
<text transform="translate(298.5 1166.5) scale(1 1.04)" font-size="37" text-anchor="end">1.0</text>
<line x1="301.8" y1="1275.3" x2="316.8" y2="1275.3" stroke="#000" stroke-width="4.1"/>
<text transform="translate(298.5 1287.2) scale(1 1.04)" font-size="37" text-anchor="end">0.5</text>
<line x1="301.8" y1="1396" x2="316.8" y2="1396" stroke="#000" stroke-width="4.1"/>
<text transform="translate(298.5 1407.9) scale(1 1.04)" font-size="37" text-anchor="end">0.0</text>
<line x1="437.1" y1="1396" x2="437.1" y2="1411" stroke="#000" stroke-width="4.1"/>
<line x1="678.4" y1="1396" x2="678.4" y2="1411" stroke="#000" stroke-width="4.1"/>
<line x1="919.8" y1="1396" x2="919.8" y2="1411" stroke="#000" stroke-width="4.1"/>
<line x1="436.3" y1="940" x2="920.5" y2="940" stroke="#000" stroke-width="4.1"/>
<line x1="436.3" y1="997.8" x2="680.7" y2="997.8" stroke="#000" stroke-width="4.1"/>
<text transform="translate(552 999.5)" font-size="46" text-anchor="middle" font-weight="bold">*</text>
<text transform="translate(665.4 939.3)" font-size="46" text-anchor="middle" font-weight="bold">*</text>
<text transform="translate(689.2 939.3)" font-size="46" text-anchor="middle" font-weight="bold">*</text>
<text transform="translate(217.9 1168.5) rotate(-90) scale(1 1.04)" font-size="36.3" text-anchor="middle">Fold PHGDH expression</text>
<text transform="translate(439 1448) scale(1 1.04)" font-size="37.2" text-anchor="middle">Control</text>
<text transform="translate(682.4 1448) scale(1 1.04)" font-size="37.2" text-anchor="middle">No Glucose</text>
<text transform="translate(924 1448) scale(1 1.04)" font-size="37.2" text-anchor="middle">No Glocose</text>
<text transform="translate(920 1487.7) scale(1 1.04)" font-size="37.2" text-anchor="middle">+ 10074-G5</text>
</g>
<g id="panelD2">
<rect x="1402.45" y="1078.35" width="153.20" height="315.35" fill="#a6a6a6" stroke="#000" stroke-width="4.1" stroke-linejoin="round"/>
<rect x="1639.65" y="992.25" width="153.50" height="401.45" fill="#dcdcdc" stroke="#000" stroke-width="4.1" stroke-linejoin="round"/>
<rect x="1877.25" y="1229.95" width="153.50" height="163.75" fill="#ffffff" stroke="#000" stroke-width="4.1" stroke-linejoin="round"/>
<line x1="1478.9" y1="1054.4" x2="1478.9" y2="1077" stroke="#000" stroke-width="4.1"/>
<line x1="1439.3" y1="1054.4" x2="1519" y2="1054.4" stroke="#000" stroke-width="4.1"/>
<line x1="1716.4" y1="968.2" x2="1716.4" y2="991" stroke="#000" stroke-width="4.1"/>
<line x1="1676.7" y1="968.2" x2="1756" y2="968.2" stroke="#000" stroke-width="4.1"/>
<line x1="1953.8" y1="1192.9" x2="1953.8" y2="1229" stroke="#000" stroke-width="4.1"/>
<line x1="1914.1" y1="1192.9" x2="1993.6" y2="1192.9" stroke="#000" stroke-width="4.1"/>
<circle cx="1478.9" cy="1032.4" r="9.25" fill="none" stroke="#000" stroke-width="4.2"/>
<circle cx="1459.6" cy="1099.6" r="9.25" fill="none" stroke="#000" stroke-width="4.2"/>
<circle cx="1497.9" cy="1096.8" r="9.25" fill="none" stroke="#000" stroke-width="4.2"/>
<circle cx="1697.2" cy="968.2" r="9.25" fill="none" stroke="#000" stroke-width="4.2"/>
<circle cx="1735.3" cy="968.2" r="9.25" fill="none" stroke="#000" stroke-width="4.2"/>
<circle cx="1716.4" cy="1032.6" r="9.25" fill="none" stroke="#000" stroke-width="4.2"/>
<circle cx="1953.8" cy="1180.5" r="9.25" fill="none" stroke="#000" stroke-width="4.2"/>
<circle cx="1953.8" cy="1206.2" r="9.25" fill="none" stroke="#000" stroke-width="4.2"/>
<circle cx="1953.8" cy="1296.6" r="9.25" fill="none" stroke="#000" stroke-width="4.2"/>
<line x1="1360.1" y1="916.75" x2="1360.1" y2="1395.75" stroke="#000" stroke-width="4.1"/>
<line x1="1358.05" y1="1393.7" x2="2075.5" y2="1393.7" stroke="#000" stroke-width="4.1"/>
<line x1="1345.1" y1="918.8" x2="1360.1" y2="918.8" stroke="#000" stroke-width="4.1"/>
<text transform="translate(1344 930.6999999999999) scale(1 1.04)" font-size="37" text-anchor="end">1.5</text>
<line x1="1345.1" y1="1077.1" x2="1360.1" y2="1077.1" stroke="#000" stroke-width="4.1"/>
<text transform="translate(1344 1089.0) scale(1 1.04)" font-size="37" text-anchor="end">1.0</text>
<line x1="1345.1" y1="1235.4" x2="1360.1" y2="1235.4" stroke="#000" stroke-width="4.1"/>
<text transform="translate(1344 1247.3000000000002) scale(1 1.04)" font-size="37" text-anchor="end">0.5</text>
<line x1="1345.1" y1="1393.7" x2="1360.1" y2="1393.7" stroke="#000" stroke-width="4.1"/>
<text transform="translate(1344 1405.6000000000001) scale(1 1.04)" font-size="37" text-anchor="end">0.0</text>
<line x1="1478.9" y1="1393.7" x2="1478.9" y2="1408.7" stroke="#000" stroke-width="4.1"/>
<line x1="1716.4" y1="1393.7" x2="1716.4" y2="1408.7" stroke="#000" stroke-width="4.1"/>
<line x1="1953.8" y1="1393.7" x2="1953.8" y2="1408.7" stroke="#000" stroke-width="4.1"/>
<line x1="1477" y1="868.5" x2="1954" y2="868.5" stroke="#000" stroke-width="4.1"/>
<line x1="1477" y1="925.5" x2="1718.3" y2="925.5" stroke="#000" stroke-width="4.1"/>
<text transform="translate(1592.2 930)" font-size="46" text-anchor="middle" font-weight="bold">*</text>
<text transform="translate(1715.7 870.5)" font-size="46" text-anchor="middle" font-weight="bold">*</text>
<text transform="translate(1265 1166.5) rotate(-90) scale(1 1.04)" font-size="36.3" text-anchor="middle">Fold PSPH expression</text>
<text transform="translate(1482.2 1445.6) scale(1 1.04)" font-size="37.2" text-anchor="middle">Control</text>
<text transform="translate(1721.7 1445.6) scale(1 1.04)" font-size="37.2" text-anchor="middle">No Glucose</text>
<text transform="translate(1959 1445.6) scale(1 1.04)" font-size="37.2" text-anchor="middle">No Glocose</text>
<text transform="translate(1959.6 1486) scale(1 1.04)" font-size="37.2" text-anchor="middle">+ 10074-G5</text>
</g>
<g id="panelE">
<text transform="translate(391.5 1705.4) scale(1 1.04)" font-size="45.4" text-anchor="end">Glucose</text>
<text transform="translate(369.5 1772.8) scale(1 1.04)" font-size="45.6" text-anchor="end">G5-10074</text>
<text transform="translate(373.4 1847) scale(1 1.04)" font-size="44.7" text-anchor="end">ASS1</text>
<text transform="translate(370.5 1929) scale(1 1.04)" font-size="46.4" text-anchor="end">c-Myc</text>
<text transform="translate(373 2018.6) scale(1 1.04)" font-size="45.5" text-anchor="end">GAPDH</text>
<text transform="translate(490.8 1706.3)" font-size="49" text-anchor="middle" stroke="#000" stroke-width="0.8">+</text>
<text transform="translate(632.9 1706.7)" font-size="49" text-anchor="middle" stroke="#000" stroke-width="0.8">+</text>
<text transform="translate(764 1706.9)" font-size="55" text-anchor="middle" stroke="#000" stroke-width="0.8">-</text>
<text transform="translate(892.9 1706.2)" font-size="55" text-anchor="middle" stroke="#000" stroke-width="0.8">-</text>
<text transform="translate(628.1 1780.7)" font-size="55" text-anchor="middle" stroke="#000" stroke-width="0.8">-</text>
<text transform="translate(757 1779.7)" font-size="55" text-anchor="middle" stroke="#000" stroke-width="0.8">-</text>
<text transform="translate(813.2 1778.7)" font-size="49" text-anchor="middle" stroke="#000" stroke-width="0.8">+</text>
<text transform="translate(903.6 1778)" font-size="49" text-anchor="middle" stroke="#000" stroke-width="0.8">+</text>
<line x1="445" y1="1732.3" x2="953.6" y2="1732.3" stroke="#000" stroke-width="3.4"/>
<text transform="translate(962 1863.2) scale(1 1.04)" font-size="32.5">-37</text>
<text transform="translate(962 1901.6) scale(1 1.04)" font-size="32.5">-75</text>
<text transform="translate(957.6 1983.2) scale(1 1.04)" font-size="32.5">-37</text>
<linearGradient id="gE2" x1="0" y1="0" x2="1" y2="0"><stop offset="0" stop-color="#ededed"/><stop offset="0.55" stop-color="#f6f6f6"/><stop offset="0.8" stop-color="#eeeeee"/><stop offset="0.95" stop-color="#dcdcdc"/><stop offset="1" stop-color="#c4c4c4"/></linearGradient>
<rect x="402" y="1807" width="558.5" height="54" fill="#f5f5f5"/>
<g clip-path="url(#cE1)">
<g filter="url(#b2)">
<path d="M428,1833 C460,1833 500,1829 536,1828" stroke="#777" stroke-width="6" fill="none" stroke-linecap="round"/>
<path d="M577,1830 C600,1832 640,1833 672,1831" stroke="#929292" stroke-width="5.5" fill="none" stroke-linecap="round"/>
<path d="M706,1829 C730,1832 770,1834 803,1832" stroke="#0a0a0a" stroke-width="10.5" fill="none" stroke-linecap="round"/>
<path d="M842,1833 C870,1836 910,1838 954,1834" stroke="#909090" stroke-width="6" fill="none" stroke-linecap="round"/>
</g>
<rect x="402" y="1807" width="558.5" height="54" filter="url(#noise2)" opacity="0.16"/>
<rect x="402" y="1805" width="558.5" height="7" fill="#222" filter="url(#b2)"/>
</g>
<rect x="402.40" y="1807.20" width="558.10" height="53.20" fill="none" stroke="#000" stroke-width="4.6"/>
<rect x="400" y="1893" width="558.5" height="54" fill="url(#gE2)"/>
<g clip-path="url(#cE2)">
<g filter="url(#b4)">
<path d="M424,1927 C450,1926 500,1925 526,1926" stroke="#c6c6c6" stroke-width="16" fill="none" stroke-linecap="round"/>
<path d="M578,1926 C600,1925 640,1925 660,1926" stroke="#707070" stroke-width="18" fill="none" stroke-linecap="round"/>
<path d="M706,1927 C730,1927 770,1928 790,1929" stroke="#555" stroke-width="18" fill="none" stroke-linecap="round"/>
<path d="M848,1937 C880,1937 920,1935 946,1934" stroke="#bcbcbc" stroke-width="13" fill="none" stroke-linecap="round"/>
</g>
<rect x="400" y="1893" width="558.5" height="54" filter="url(#noise2)" opacity="0.12"/>
</g>
<rect x="400.30" y="1893.10" width="558.30" height="53.50" fill="none" stroke="#000" stroke-width="4.6"/>
<rect x="400" y="1977" width="556.5" height="54" fill="#ebebeb"/>
<g clip-path="url(#cE3)">
<g filter="url(#b4)">
<path d="M449,2001 C480,1998 530,1993 560,1993" stroke="#2c2c2c" stroke-width="16" fill="none" stroke-linecap="round"/>
<path d="M590,1991 C620,1992 660,1993 682,1992" stroke="#3c3c3c" stroke-width="15" fill="none" stroke-linecap="round"/>
<path d="M708,1989 C740,1991 780,1993 806,1992" stroke="#404040" stroke-width="15" fill="none" stroke-linecap="round"/>
<path d="M836,1992 C870,1995 920,1998 954,1996" stroke="#3a3a3a" stroke-width="15" fill="none" stroke-linecap="round"/>
</g>
<rect x="400" y="1977" width="556.5" height="54" filter="url(#noise)" opacity="0.32"/>
<rect x="400" y="1975" width="556.5" height="6" fill="#333" filter="url(#b2)"/>
</g>
<rect x="400.30" y="1977.20" width="555.90" height="53.40" fill="none" stroke="#000" stroke-width="4.6"/>
</g>
<g id="panelF">
<line x1="1510" y1="2429.6" x2="1922.5" y2="2429.6" stroke="#ececec" stroke-width="1.6"/>
<rect x="1509.7" y="1579.2" width="413.4" height="866.6" fill="none" stroke="#222" stroke-width="2"/>
<line x1="1503.4" y1="1748.7" x2="1509.7" y2="1748.7" stroke="#2b2b2b" stroke-width="4"/>
<text transform="translate(1490.6 1759.4) scale(1 1.04)" font-size="36.3" text-anchor="end">4</text>
<line x1="1503.4" y1="1943.2" x2="1509.7" y2="1943.2" stroke="#2b2b2b" stroke-width="4"/>
<text transform="translate(1490.6 1953.9) scale(1 1.04)" font-size="36.3" text-anchor="end">3</text>
<line x1="1503.4" y1="2137.7" x2="1509.7" y2="2137.7" stroke="#2b2b2b" stroke-width="4"/>
<text transform="translate(1490.6 2148.3999999999996) scale(1 1.04)" font-size="36.3" text-anchor="end">2</text>
<line x1="1503.4" y1="2332.2" x2="1509.7" y2="2332.2" stroke="#2b2b2b" stroke-width="4"/>
<text transform="translate(1490.6 2342.8999999999996) scale(1 1.04)" font-size="36.3" text-anchor="end">1</text>
<line x1="1585.5" y1="2445.8" x2="1585.5" y2="2452.7" stroke="#2b2b2b" stroke-width="3"/>
<text transform="translate(1599 2490.6) scale(1 1.04)" font-size="37.2" text-anchor="middle">BRCA</text>
<line x1="1715.5" y1="2445.8" x2="1715.5" y2="2452.7" stroke="#2b2b2b" stroke-width="3"/>
<text transform="translate(1730.2 2490.6) scale(1 1.04)" font-size="37.2" text-anchor="middle">LUNG</text>
<line x1="1845.4" y1="2445.8" x2="1845.4" y2="2452.7" stroke="#2b2b2b" stroke-width="3"/>
<text transform="translate(1858.4 2490.6) scale(1 1.04)" font-size="37.2" text-anchor="middle">COAD</text>
<text transform="translate(1398 2025.2) rotate(-90) scale(1 1.04)" font-size="37.4" text-anchor="middle">Gluconeogenesis Enzyme Expression</text>
<text transform="translate(1443.6 2024.4) rotate(-90) scale(1 1.04)" font-size="36.4" text-anchor="middle">(PC+PCK1+PCK2+FBP1+FBP2)</text>
<text transform="translate(1848.8 1662.6) scale(1 1.04)" font-size="33" text-anchor="middle">P&lt;0.07</text>
<text transform="translate(1584.3 1664.5) scale(1 1.04)" font-size="39" text-anchor="middle" style="font-family:'DejaVu Sans',sans-serif">∗</text>
<text transform="translate(1717.7 1664.5) scale(1 1.04)" font-size="39" text-anchor="middle" style="font-family:'DejaVu Sans',sans-serif">∗</text>
<line x1="1562" y1="1721.2" x2="1562" y2="2366.0" stroke="#2b2b2b" stroke-width="4.0"/>
<rect x="1540.40" y="1952.80" width="43.10" height="168.10" fill="#d9281c" stroke="#2b2b2b" stroke-width="4.0" stroke-linejoin="round"/>
<line x1="1540.40" y1="2038.9" x2="1583.50" y2="2038.9" stroke="#2b2b2b" stroke-width="7"/>
<line x1="1610.6" y1="1702.9" x2="1610.6" y2="2406.9" stroke="#2b2b2b" stroke-width="4.0"/>
<rect x="1589.50" y="1962.40" width="43.10" height="191.70" fill="#4483c2" stroke="#2b2b2b" stroke-width="4.0" stroke-linejoin="round"/>
<line x1="1589.50" y1="2050.9" x2="1632.60" y2="2050.9" stroke="#2b2b2b" stroke-width="7"/>
<line x1="1691.4" y1="1717.4" x2="1691.4" y2="2343.3" stroke="#2b2b2b" stroke-width="4.0"/>
<rect x="1669.40" y="1930.60" width="43.60" height="189.80" fill="#d9281c" stroke="#2b2b2b" stroke-width="4.0" stroke-linejoin="round"/>
<line x1="1669.40" y1="2024.9" x2="1713.00" y2="2024.9" stroke="#2b2b2b" stroke-width="7"/>
<line x1="1740" y1="1772.2" x2="1740" y2="2332.3" stroke="#2b2b2b" stroke-width="4.0"/>
<rect x="1718.40" y="1974.90" width="43.20" height="161.40" fill="#4483c2" stroke="#2b2b2b" stroke-width="4.0" stroke-linejoin="round"/>
<line x1="1718.40" y1="2055.7" x2="1761.60" y2="2055.7" stroke="#2b2b2b" stroke-width="7"/>
<line x1="1820.9" y1="1754.4" x2="1820.9" y2="2302.4" stroke="#2b2b2b" stroke-width="4.0"/>
<rect x="1798.80" y="1942.20" width="43.70" height="156.60" fill="#d9281c" stroke="#2b2b2b" stroke-width="4.0" stroke-linejoin="round"/>
<line x1="1798.80" y1="2015.3" x2="1842.50" y2="2015.3" stroke="#2b2b2b" stroke-width="7"/>
<line x1="1869.5" y1="1763.6" x2="1869.5" y2="2333.7000000000003" stroke="#2b2b2b" stroke-width="4.0"/>
<rect x="1848.40" y="1978.30" width="43.10" height="146.90" fill="#4483c2" stroke="#2b2b2b" stroke-width="4.0" stroke-linejoin="round"/>
<line x1="1848.40" y1="2050.9" x2="1891.50" y2="2050.9" stroke="#2b2b2b" stroke-width="7"/>
<text transform="translate(1983 1642) scale(1 1.04)" font-size="33">ASS1+ASL+NOS1</text>
<text transform="translate(2090 1696.3) scale(1 1.04)" font-size="33">High</text>
<text transform="translate(2090 1750.5) scale(1 1.04)" font-size="33">Low</text>
<line x1="2056.6" y1="1664.4" x2="2056.6" y2="1709.3" stroke="#2b2b2b" stroke-width="3.6" stroke-linecap="round"/>
<rect x="2036" y="1673.4" width="41.1" height="26.9" fill="#d9281c" stroke="#2b2b2b" stroke-width="3.6" stroke-linejoin="round"/>
<line x1="2036" y1="1686.8" x2="2077" y2="1686.8" stroke="#2b2b2b" stroke-width="3.6"/>
<line x1="2056.6" y1="1718.6" x2="2056.6" y2="1763.8" stroke="#2b2b2b" stroke-width="3.6" stroke-linecap="round"/>
<rect x="2036" y="1727.6" width="41.1" height="27.2" fill="#4483c2" stroke="#2b2b2b" stroke-width="3.6" stroke-linejoin="round"/>
<line x1="2036" y1="1741.2" x2="2077" y2="1741.2" stroke="#2b2b2b" stroke-width="3.6"/>
</g>
</svg></body></html>
